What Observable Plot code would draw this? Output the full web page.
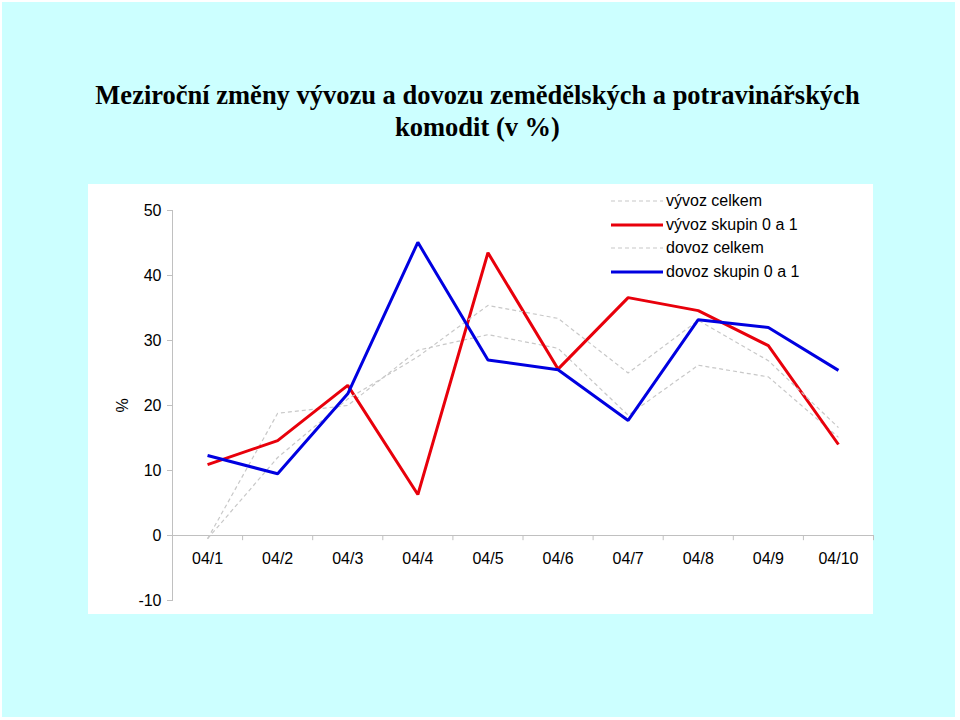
<!DOCTYPE html>
<html>
<head>
<meta charset="utf-8">
<script src="https://cdn.jsdelivr.net/npm/d3@7"></script>
<script src="https://cdn.jsdelivr.net/npm/@observablehq/plot@0.6"></script>
<style>
  body { margin: 0; background: #ffffff; width: 960px; height: 720px; position: relative; overflow: hidden; }
  #bg { position: absolute; left: 2px; top: 2px; width: 953px; height: 715px; background: #ccffff; }
  #title { position: absolute; left: 0; top: 79px; width: 955px; text-align: center;
           font-family: "Liberation Serif", "Times New Roman", serif; font-weight: bold;
           font-size: 26.5px; line-height: 32px; color: #000; }
  #panel { position: absolute; left: 88px; top: 184px; width: 785px; height: 430px; background: #fff; }
  #chart svg { display: block; }
  #chart svg text { fill: #000; }
  #legend { position: absolute; left: 611px; top: 189px; font-family: "Liberation Sans", Arial, sans-serif;
            font-size: 16px; color: #000; }
  #legend .row { height: 23.7px; display: flex; align-items: center; }
  #legend svg { width: 52px; height: 6px; margin-right: 3px; }
</style>
</head>
<body>
<div id="bg"></div>
<div id="title">Meziroční změny vývozu a dovozu zemědělských a potravinářských<br>komodit (v %)</div>
<div id="panel"><div id="chart"></div></div>
<div id="legend"></div>
<script>
const categories = ["04/1","04/2","04/3","04/4","04/5","04/6","04/7","04/8","04/9","04/10"];
const vyvozCelkem = [-0.5, 18.8, 20.0, 28.5, 30.9, 28.8, 18.5, 26.2, 24.4, 15.1];
const vyvozSkupin = [10.9, 14.6, 23.1, 6.3, 43.5, 25.6, 36.6, 34.6, 29.2, 14.0];
const dovozCelkem = [-0.5, 12.0, 21.0, 27.5, 35.4, 33.4, 25.0, 33.1, 26.9, 16.6];
const dovozSkupin = [12.3, 9.5, 21.8, 45.1, 27.0, 25.5, 17.7, 33.2, 32.0, 25.4];
const yTicks = [-10, 0, 10, 20, 30, 40, 50];
const seriesNames = ["vývoz celkem", "vývoz skupin 0 a 1", "dovoz celkem", "dovoz skupin 0 a 1"];

const series = [
  {name: seriesNames[0], values: vyvozCelkem, color: "#c8c8c8", width: 1.2, dash: "4,3"},
  {name: seriesNames[1], values: vyvozSkupin, color: "#e8000b", width: 3, dash: null},
  {name: seriesNames[2], values: dovozCelkem, color: "#c8c8c8", width: 1.2, dash: "4,3"},
  {name: seriesNames[3], values: dovozSkupin, color: "#0000e0", width: 3, dash: null}
];

const bounds = d3.range(0, categories.length + 1).map(i => i - 0.5);

const lineMarks = series.map(s =>
  Plot.line(s.values.map((v, i) => ({i, v})), {
    x: "i", y: "v", stroke: s.color, strokeWidth: s.width,
    strokeDasharray: s.dash || undefined, strokeLinejoin: "miter", strokeLinecap: "butt"
  })
);

const chart = Plot.plot({
  width: 785,
  height: 430,
  marginLeft: 84,
  marginRight: 0,
  marginTop: 26,
  marginBottom: 14,
  style: {fontFamily: "Liberation Sans, Arial, sans-serif", fontSize: "16px", color: "#c0c0c0", background: "transparent", overflow: "visible"},
  x: {type: "linear", domain: [-0.5, categories.length - 0.5], axis: null},
  y: {domain: [-10, 50], ticks: yTicks, tickSize: 5, tickPadding: 6, tickFormat: d => String(d), line: true, label: null},
  marks: [
    Plot.ruleY([0], {x1: -0.5, x2: categories.length - 0.5, stroke: "#c0c0c0"}),
    Plot.ruleX(bounds, {y1: 0, y2: -0.8, stroke: "#c0c0c0"}),
    Plot.text(categories, {x: (d, i) => i, y: 0, dy: 23, text: d => d, fill: "#000", fontSize: 16}),
    Plot.text(["%"], {x: -0.5, y: 20, dx: -50, rotate: -90, text: d => d, fill: "#000", fontSize: 16}),
    ...lineMarks
  ]
});
document.getElementById("chart").appendChild(chart);

// legend
const legend = d3.select("#legend");
series.forEach(s => {
  const row = legend.append("div").attr("class", "row");
  const svg = row.append("svg");
  svg.append("line").attr("x1", 0).attr("x2", 52).attr("y1", 3).attr("y2", 3)
    .attr("stroke", s.color).attr("stroke-width", s.width)
    .attr("stroke-dasharray", s.dash);
  row.append("span").text(s.name);
});
</script>
</body>
</html>
